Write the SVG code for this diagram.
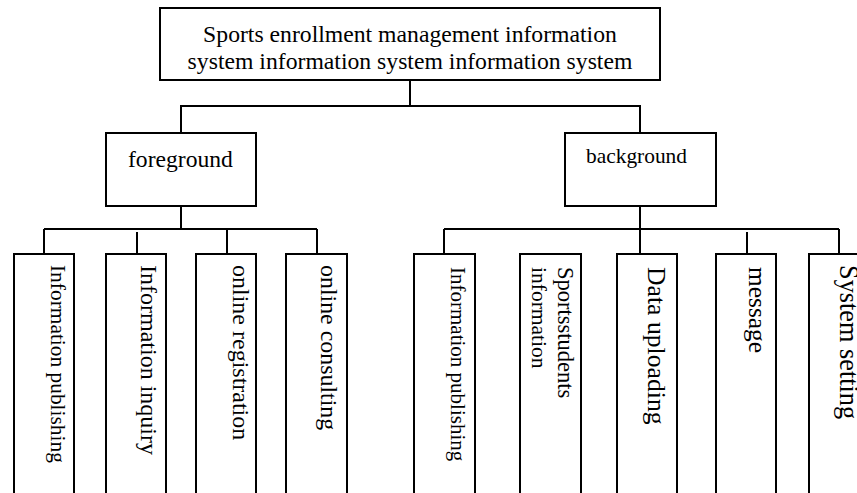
<svg xmlns="http://www.w3.org/2000/svg" width="857" height="493" viewBox="0 0 857 493">
<style>
.box{fill:#fff;stroke:#000;stroke-width:2}
.ln{fill:none;stroke:#000;stroke-width:2}
text{font-family:"Liberation Serif","Times New Roman",serif;fill:#000}
</style>
<rect x="0" y="0" width="857" height="493" fill="#fff"/>
<g id="connectors">
<path class="ln" d="M410 80V106M180 106H641M181 106V133M640 106V133"/>
<path class="ln" d="M181 206V229M44 229H317M44 229V254M137 232V254M227 230V254M317 229V254"/>
<path class="ln" d="M640 206V229" stroke-width="2.6"/>
<path class="ln" d="M444 229H839M444 229V254M640 229V254M747 232V254M839 229V254"/>
</g>
<g id="root">
<rect class="box" x="160" y="8" width="500" height="72"/>
<text x="410" y="42" font-size="23.7" text-anchor="middle">Sports enrollment management information</text>
<text x="410" y="69" font-size="23.7" text-anchor="middle">system information system information system</text>
</g>
<g id="foreground">
<rect class="box" x="106" y="133" width="150" height="73"/>
<text x="128" y="167" font-size="23.6">foreground</text>
</g>
<g id="background">
<rect class="box" x="565" y="133" width="151" height="73"/>
<text x="586" y="163" font-size="21.4">background</text>
</g>
<g id="fg-info-publishing">
<rect class="box" x="14" y="254" width="60" height="250"/>
<text transform="translate(51 265) rotate(90)" font-size="21.4">Information publishing</text>
</g>
<g id="fg-info-inquiry">
<rect class="box" x="106" y="254" width="60" height="250"/>
<text transform="translate(140.5 265) rotate(90)" font-size="24">Information inquiry</text>
</g>
<g id="fg-online-registration">
<rect class="box" x="196" y="254" width="60" height="250"/>
<text transform="translate(233 265) rotate(90)" font-size="24">online registration</text>
</g>
<g id="fg-online-consulting">
<rect class="box" x="286" y="254" width="61" height="250"/>
<text transform="translate(321 265) rotate(90)" font-size="23.9">online consulting</text>
</g>
<g id="bg-info-publishing">
<rect class="box" x="414" y="254" width="61" height="250"/>
<text transform="translate(451 267) rotate(90)" font-size="21">Information publishing</text>
</g>
<g id="bg-sportsstudents">
<rect class="box" x="520" y="254" width="61" height="250"/>
<text transform="translate(558 267) rotate(90)" font-size="22.5">Sportsstudents</text>
<text transform="translate(532 267) rotate(90)" font-size="21.5">information</text>
</g>
<g id="bg-data-uploading">
<rect class="box" x="617" y="254" width="60" height="250"/>
<text transform="translate(648 267) rotate(90)" font-size="25.7">Data uploading</text>
</g>
<g id="bg-message">
<rect class="box" x="716" y="254" width="60" height="250"/>
<text transform="translate(749 267) rotate(90)" font-size="25.4">message</text>
</g>
<g id="bg-system-setting">
<rect class="box" x="809" y="254" width="61" height="250"/>
<text transform="translate(840 265) rotate(90)" font-size="26.3">System setting</text>
</g>
</svg>
